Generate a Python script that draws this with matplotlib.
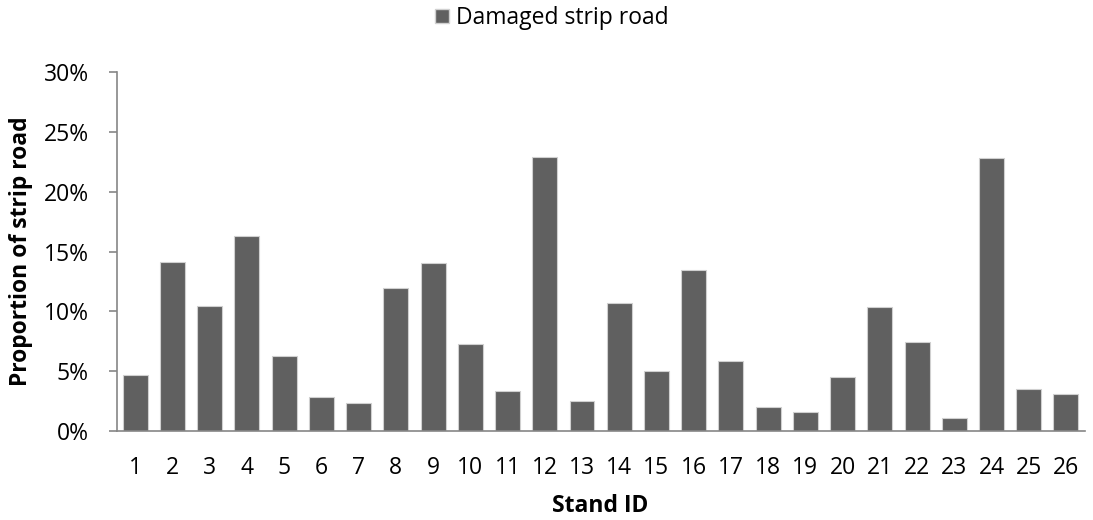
import matplotlib
matplotlib.use("Agg")
import matplotlib.pyplot as plt
from matplotlib.ticker import PercentFormatter
from matplotlib.patches import Patch

stand_ids = [str(i) for i in range(1, 27)]
damaged = [4.68, 14.12, 10.47, 16.27, 6.30, 2.84, 2.31, 11.92, 14.01, 7.24,
           3.34, 22.92, 2.48, 10.67, 4.99, 13.45, 5.85, 1.98, 1.59, 4.54,
           10.33, 7.47, 1.06, 22.87, 3.54, 3.09]
y_ticks = [0, 5, 10, 15, 20, 25, 30]

plt.rcParams['font.family'] = ['Open Sans', 'DejaVu Sans']

fig = plt.figure(figsize=(10.93, 5.2), dpi=100)
ax = fig.add_axes([0.1067, 0.1712, 0.8856, 0.6898])

bar_color = '#606060'
axis_color = '#868686'
fs = 16.5
x = list(range(len(stand_ids)))
ax.bar(x, damaged, width=0.67, color=bar_color, edgecolor='#d0d0d0', linewidth=0.8)

ax.set_xlim(-0.5, len(stand_ids) - 0.5)
ax.set_ylim(0, 30)
ax.set_yticks(y_ticks)
ax.yaxis.set_major_formatter(PercentFormatter(decimals=0))
ax.set_xticks(x)
ax.set_xticklabels(stand_ids)

for s in ['top', 'right']:
    ax.spines[s].set_visible(False)
for s in ['left', 'bottom']:
    ax.spines[s].set_color(axis_color)
    ax.spines[s].set_linewidth(1.2)

ax.tick_params(axis='y', length=6, width=1.2, color=axis_color, labelsize=fs, pad=14)
ax.tick_params(axis='x', length=0, labelsize=fs, pad=18)

ax.set_xlabel('Stand ID', fontsize=fs, fontweight='bold', labelpad=10)
ax.set_ylabel('Proportion of strip road', fontsize=fs, fontweight='bold', labelpad=8)

handle = Patch(facecolor=bar_color, edgecolor='#d0d0d0', label='Damaged strip road')
fig.legend(handles=[handle], loc='center', bbox_to_anchor=(0.505, 0.965),
           frameon=False, fontsize=fs, handlelength=0.6, handleheight=0.6,
           handletextpad=0.3)

fig.savefig('out.png', dpi=100)
